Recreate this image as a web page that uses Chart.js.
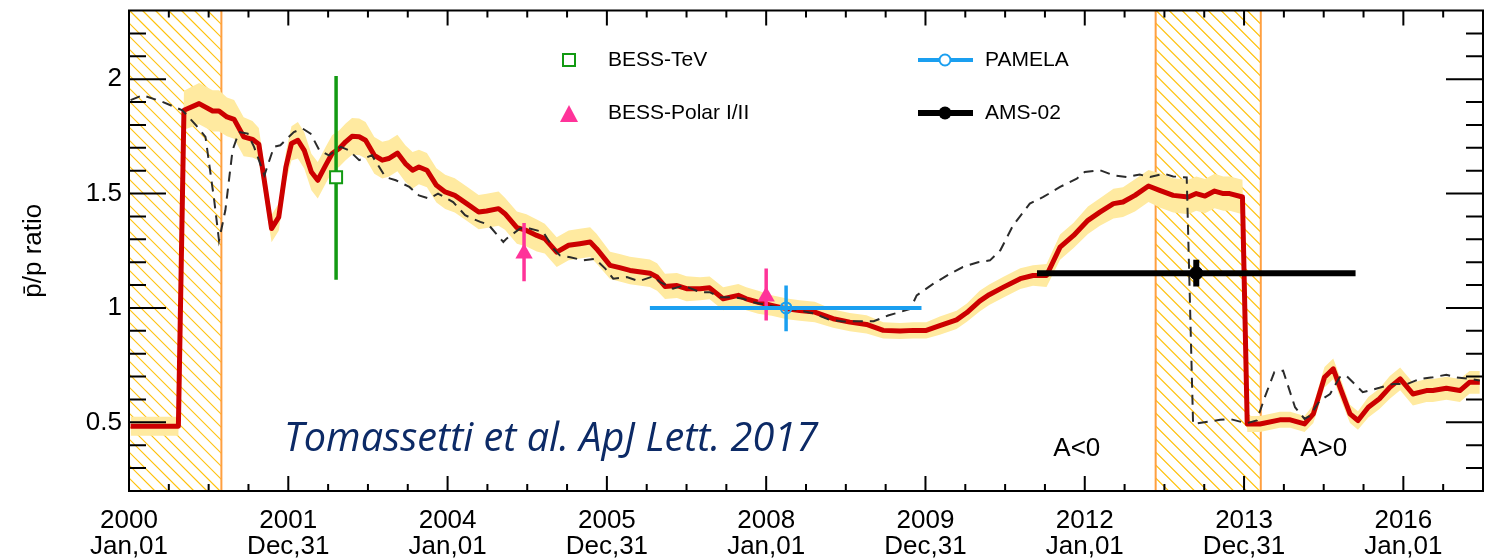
<!DOCTYPE html>
<html>
<head>
<meta charset="utf-8">
<script src="https://cdn.jsdelivr.net/npm/chart.js@4.4.1/dist/chart.umd.min.js"></script>
<style>
  html, body { margin: 0; padding: 0; background: #fff; }
  #chart { display: block; }
</style>
</head>
<body>
<canvas id="chart" width="1494" height="558"></canvas>
<script>
// x axis: decimal year, y axis: antiproton / proton ratio (normalised)
const tickPositions = [2000, 2002, 2004, 2006, 2008, 2010, 2012, 2014, 2016];
const tickYears = ['2000', '2001', '2004', '2005', '2008', '2009', '2012', '2013', '2016'];
const tickDates = ['Jan,01', 'Dec,31', 'Jan,01', 'Dec,31', 'Jan,01', 'Dec,31', 'Jan,01', 'Dec,31', 'Jan,01'];
const yTickValues = [0.5, 1, 1.5, 2];
const yTickLabels = ['0.5', '1', '1.5', '2'];

// reversal periods (hatched)
const hatchStart = [2000.0, 2012.89];
const hatchEnd = [2001.16, 2014.21];

// model prediction (red) and its uncertainty half-width (yellow band)
const modelYears = [
  2000.02, 2000.62, 2000.69, 2000.88, 2001.05, 2001.13, 2001.23, 2001.32, 2001.44, 2001.55,
  2001.63, 2001.79, 2001.88, 2001.97, 2002.04, 2002.12, 2002.20, 2002.29, 2002.37, 2002.47,
  2002.55, 2002.64, 2002.72, 2002.80, 2002.89, 2002.97, 2003.08, 2003.18, 2003.26, 2003.37,
  2003.47, 2003.56, 2003.64, 2003.74, 2003.86, 2003.97, 2004.09, 2004.24, 2004.39, 2004.49,
  2004.64, 2004.72, 2004.87, 2004.99, 2005.12, 2005.22, 2005.37, 2005.52, 2005.66, 2005.79,
  2005.87, 2006.04, 2006.16, 2006.29, 2006.54, 2006.63, 2006.73, 2006.88, 2007.00, 2007.17,
  2007.29, 2007.46, 2007.65, 2007.75, 2007.90, 2008.07, 2008.26, 2008.42, 2008.61, 2008.84,
  2009.05, 2009.26, 2009.47, 2009.68, 2009.85, 2010.01, 2010.18, 2010.39, 2010.52, 2010.68,
  2010.80, 2010.98, 2011.19, 2011.35, 2011.52, 2011.69, 2011.86, 2012.04, 2012.19, 2012.36,
  2012.48, 2012.63, 2012.80, 2012.94, 2013.11, 2013.30, 2013.40, 2013.51, 2013.63, 2013.74,
  2013.82, 2013.98, 2014.04, 2014.20, 2014.45, 2014.58, 2014.76, 2014.87, 2015.01, 2015.12,
  2015.22, 2015.33, 2015.43, 2015.56, 2015.70, 2015.83, 2015.96, 2016.12, 2016.29, 2016.37,
  2016.54, 2016.71, 2016.83, 2016.96
];
const modelRatio = [
  0.483, 0.483, 1.864, 1.893, 1.861, 1.861, 1.835, 1.824, 1.748, 1.737,
  1.716, 1.347, 1.397, 1.616, 1.719, 1.733, 1.689, 1.594, 1.558, 1.624,
  1.675, 1.697, 1.726, 1.750, 1.748, 1.733, 1.667, 1.646, 1.653, 1.677,
  1.631, 1.602, 1.616, 1.602, 1.536, 1.507, 1.492, 1.456, 1.419, 1.424,
  1.434, 1.412, 1.351, 1.339, 1.317, 1.303, 1.244, 1.274, 1.281, 1.288,
  1.259, 1.186, 1.176, 1.164, 1.152, 1.135, 1.094, 1.098, 1.084, 1.084,
  1.088, 1.040, 1.055, 1.040, 1.025, 1.011, 0.996, 0.989, 0.982, 0.953,
  0.938, 0.928, 0.902, 0.899, 0.902, 0.902, 0.923, 0.948, 0.980, 1.030,
  1.058, 1.091, 1.128, 1.142, 1.142, 1.266, 1.317, 1.383, 1.419, 1.456,
  1.463, 1.492, 1.533, 1.514, 1.492, 1.485, 1.500, 1.489, 1.511, 1.500,
  1.500, 1.485, 0.493, 0.493, 0.511, 0.511, 0.493, 0.537, 0.697, 0.734,
  0.639, 0.537, 0.508, 0.566, 0.603, 0.653, 0.690, 0.624, 0.639, 0.639,
  0.649, 0.639, 0.675, 0.675
];
const modelBand = [
  0.042, 0.042, 0.085, 0.090, 0.090, 0.090, 0.085, 0.085, 0.085, 0.080,
  0.070, 0.060, 0.060, 0.065, 0.075, 0.080, 0.080, 0.080, 0.080, 0.080,
  0.080, 0.080, 0.080, 0.080, 0.080, 0.080, 0.080, 0.080, 0.080, 0.080,
  0.080, 0.080, 0.075, 0.075, 0.075, 0.075, 0.075, 0.075, 0.075, 0.075,
  0.075, 0.070, 0.070, 0.070, 0.070, 0.065, 0.065, 0.065, 0.065, 0.065,
  0.065, 0.060, 0.060, 0.060, 0.060, 0.060, 0.055, 0.055, 0.055, 0.050,
  0.050, 0.050, 0.050, 0.050, 0.050, 0.045, 0.045, 0.045, 0.045, 0.040,
  0.040, 0.040, 0.035, 0.035, 0.035, 0.035, 0.040, 0.040, 0.040, 0.045,
  0.045, 0.045, 0.045, 0.045, 0.050, 0.055, 0.055, 0.060, 0.060, 0.065,
  0.065, 0.070, 0.070, 0.075, 0.075, 0.075, 0.075, 0.075, 0.075, 0.075,
  0.075, 0.075, 0.035, 0.035, 0.035, 0.035, 0.035, 0.040, 0.045, 0.045,
  0.045, 0.040, 0.040, 0.045, 0.045, 0.050, 0.050, 0.050, 0.050, 0.050,
  0.050, 0.050, 0.050, 0.050
];

// dashed curve
const dataYears = [
  2000.02, 2000.17, 2000.42, 2000.67, 2000.84, 2000.96, 2001.07, 2001.13, 2001.21, 2001.30,
  2001.38, 2001.49, 2001.57, 2001.70, 2001.82, 2001.90, 2002.07, 2002.18, 2002.28, 2002.39,
  2002.51, 2002.66, 2002.76, 2002.89, 2003.05, 2003.22, 2003.35, 2003.52, 2003.64, 2003.77,
  2003.88, 2004.07, 2004.22, 2004.41, 2004.51, 2004.70, 2004.74, 2004.91, 2005.03, 2005.20,
  2005.33, 2005.41, 2005.54, 2005.70, 2005.85, 2005.98, 2006.08, 2006.25, 2006.40, 2006.58,
  2006.67, 2006.83, 2006.96, 2007.17, 2007.29, 2007.42, 2007.59, 2007.71, 2007.84, 2008.13,
  2008.42, 2008.61, 2008.78, 2008.97, 2009.18, 2009.35, 2009.53, 2009.68, 2009.81, 2009.89,
  2010.10, 2010.31, 2010.47, 2010.66, 2010.81, 2010.94, 2011.10, 2011.31, 2011.48, 2011.69,
  2011.90, 2012.00, 2012.19, 2012.36, 2012.53, 2012.69, 2012.82, 2012.99, 2013.11, 2013.28,
  2013.36, 2013.70, 2013.82, 2014.03, 2014.16, 2014.26, 2014.38, 2014.49, 2014.64, 2014.76,
  2014.83, 2014.95, 2015.08, 2015.20, 2015.28, 2015.49, 2015.70, 2015.87, 2016.05, 2016.21,
  2016.37, 2016.54, 2016.66, 2016.83, 2016.96
];
const dataRatio = [
  1.908, 1.930, 1.901, 1.864, 1.799, 1.748, 1.470, 1.295, 1.427, 1.689,
  1.769, 1.762, 1.704, 1.580, 1.704, 1.711, 1.769, 1.784, 1.762, 1.689,
  1.667, 1.704, 1.689, 1.646, 1.667, 1.572, 1.558, 1.529, 1.492, 1.478,
  1.500, 1.463, 1.405, 1.376, 1.365, 1.288, 1.303, 1.347, 1.347, 1.332,
  1.259, 1.230, 1.222, 1.208, 1.215, 1.172, 1.128, 1.135, 1.117, 1.138,
  1.113, 1.084, 1.098, 1.069, 1.069, 1.047, 1.047, 1.040, 1.025, 1.004,
  0.989, 0.975, 0.950, 0.941, 0.942, 0.942, 0.967, 0.982, 0.996, 1.055,
  1.106, 1.150, 1.179, 1.200, 1.208, 1.252, 1.361, 1.456, 1.485, 1.529,
  1.565, 1.594, 1.602, 1.580, 1.572, 1.583, 1.572, 1.587, 1.575, 1.570,
  0.493, 0.511, 0.515, 0.496, 0.508, 0.610, 0.719, 0.726, 0.566, 0.515,
  0.530, 0.595, 0.624, 0.697, 0.705, 0.632, 0.651, 0.668, 0.668, 0.690,
  0.697, 0.708, 0.697, 0.690, 0.683
];

// experiments
const bessTevYear = [2002.60];
const bessTevRatio = [1.571];
const bessTevLow = [1.123];
const bessTevHigh = [2.014];

const bessPolarYear = [2004.96, 2008.00];
const bessPolarRatio = [1.238, 1.050];
const bessPolarLow = [1.117, 0.945];
const bessPolarHigh = [1.371, 1.172];

const pamelaYear = [2008.25];
const pamelaRatio = [1.000];
const pamelaLow = [0.898];
const pamelaHigh = [1.098];
const pamelaStart = [2006.54];
const pamelaEnd = [2009.95];

const amsYear = [2013.40];
const amsRatio = [1.152];
const amsLow = [1.094];
const amsHigh = [1.211];
const amsStart = [2011.40];
const amsEnd = [2015.40];

const RED = '#cc0000';
const GREEN = '#129a12';
const PINK = '#ff3399';
const BLUE = '#1a9ff0';

Chart.defaults.font.family = '"Liberation Sans", Arial, sans-serif';
Chart.defaults.color = '#000';

function pts(xs, ys) {
  return xs.map((t, i) => ({ x: t, y: ys[i] }));
}
function vbars(xs, lo, hi, color, width) {
  return xs.map((t, i) => ({
    data: [{ x: t, y: lo[i] }, { x: t, y: hi[i] }],
    borderColor: color, borderWidth: width, pointRadius: 0, order: 1
  }));
}
function hbars(x0, x1, ys, color, width) {
  return ys.map((v, i) => ({
    data: [{ x: x0[i], y: v }, { x: x1[i], y: v }],
    borderColor: color, borderWidth: width, pointRadius: 0, order: 1
  }));
}

const hatchPlugin = {
  id: 'hatch',
  beforeDatasetsDraw(chart) {
    const { ctx, chartArea: a, scales: { x } } = chart;
    const h = a.bottom - a.top;
    hatchStart.forEach((s, i) => {
      const p0 = x.getPixelForValue(s), p1 = x.getPixelForValue(hatchEnd[i]);
      ctx.save();
      ctx.beginPath();
      ctx.rect(p0, a.top, p1 - p0, h);
      ctx.clip();
      ctx.strokeStyle = '#ffc20e';
      ctx.lineWidth = 1.2;
      ctx.beginPath();
      for (let q = p0 - h; q < p1; q += 13) {
        ctx.moveTo(q, a.top);
        ctx.lineTo(q + h, a.bottom);
      }
      ctx.stroke();
      ctx.restore();
      ctx.save();
      ctx.strokeStyle = '#ffa040';
      ctx.lineWidth = 2;
      ctx.beginPath();
      ctx.moveTo(p0, a.top); ctx.lineTo(p0, a.bottom);
      ctx.moveTo(p1, a.top); ctx.lineTo(p1, a.bottom);
      ctx.stroke();
      ctx.restore();
    });
  }
};

const framePlugin = {
  id: 'frame',
  afterDraw(chart) {
    const { ctx, chartArea: a, scales: { x, y } } = chart;
    ctx.save();
    ctx.strokeStyle = '#000';
    ctx.lineWidth = 2;
    ctx.strokeRect(a.left, a.top, a.right - a.left, a.bottom - a.top);
    ctx.beginPath();
    for (let k = 0; k <= 34; k++) {
      const px = x.getPixelForValue(2000 + k * 0.5);
      const len = k % 4 === 0 ? 15 : 7;
      ctx.moveTo(px, a.bottom); ctx.lineTo(px, a.bottom - len);
      ctx.moveTo(px, a.top); ctx.lineTo(px, a.top + len);
    }
    for (let k = 2; k <= 22; k++) {
      const py = y.getPixelForValue(k / 10);
      const len = k % 5 === 0 ? 37 : 17;
      ctx.moveTo(a.left, py); ctx.lineTo(a.left + len, py);
      ctx.moveTo(a.right, py); ctx.lineTo(a.right - len, py);
    }
    ctx.stroke();

    // legend
    ctx.font = '21px "Liberation Sans", Arial, sans-serif';
    ctx.fillStyle = '#000';
    ctx.textBaseline = 'middle';
    ctx.textAlign = 'left';
    ctx.fillText('BESS-TeV', 608, 60);
    ctx.fillText('BESS-Polar I/II', 608, 113);
    ctx.fillText('PAMELA', 985, 60);
    ctx.fillText('AMS-02', 985, 113);

    ctx.fillStyle = '#fff';
    ctx.strokeStyle = GREEN;
    ctx.lineWidth = 2;
    ctx.fillRect(563, 54, 12, 12);
    ctx.strokeRect(563, 54, 12, 12);

    ctx.fillStyle = PINK;
    ctx.beginPath();
    ctx.moveTo(569, 105); ctx.lineTo(578, 122); ctx.lineTo(560, 122);
    ctx.closePath();
    ctx.fill();

    ctx.strokeStyle = BLUE;
    ctx.lineWidth = 4;
    ctx.beginPath(); ctx.moveTo(918, 60); ctx.lineTo(973, 60); ctx.stroke();
    ctx.fillStyle = '#fff';
    ctx.lineWidth = 2;
    ctx.beginPath(); ctx.arc(945, 60, 5.5, 0, Math.PI * 2); ctx.fill(); ctx.stroke();

    ctx.strokeStyle = '#000';
    ctx.lineWidth = 6;
    ctx.beginPath(); ctx.moveTo(918, 113); ctx.lineTo(973, 113); ctx.stroke();
    ctx.fillStyle = '#000';
    ctx.beginPath(); ctx.arc(945, 113, 6.5, 0, Math.PI * 2); ctx.fill();

    // annotations
    ctx.textBaseline = 'alphabetic';
    ctx.font = '26px "Liberation Sans", Arial, sans-serif';
    ctx.textAlign = 'center';
    ctx.fillText('A<0', x.getPixelForValue(2011.9), 456);
    ctx.fillText('A>0', x.getPixelForValue(2015.0), 456);

    ctx.textAlign = 'left';
    ctx.fillStyle = '#0c2a66';
    ctx.font = 'italic 40px "Open Sans", "Noto Sans", sans-serif';
    ctx.fillText('Tomassetti et al. ApJ Lett. 2017', 284, 451, 534);
    ctx.restore();
  }
};

const datasets = [
  // markers
  { data: pts(amsYear, amsRatio), showLine: false, pointRadius: 6.5, pointBackgroundColor: '#000', pointBorderColor: '#000', order: 0 },
  { data: pts(pamelaYear, pamelaRatio), showLine: false, pointRadius: 5.5, pointBorderWidth: 2, pointBackgroundColor: 'rgba(0,0,0,0)', pointBorderColor: BLUE, order: 0 },
  { data: pts(bessPolarYear, bessPolarRatio), showLine: false, pointStyle: 'triangle', pointRadius: 10, pointBackgroundColor: PINK, pointBorderColor: PINK, pointBorderWidth: 0, order: 0 },
  { data: pts(bessTevYear, bessTevRatio), showLine: false, pointStyle: 'rect', pointRadius: 8.5, pointBorderWidth: 2, pointBackgroundColor: '#fff', pointBorderColor: GREEN, order: 0 },
  // error bars
  ...hbars(amsStart, amsEnd, amsRatio, '#000', 6),
  ...vbars(amsYear, amsLow, amsHigh, '#000', 6),
  ...hbars(pamelaStart, pamelaEnd, pamelaRatio, BLUE, 4),
  ...vbars(pamelaYear, pamelaLow, pamelaHigh, BLUE, 3.5),
  ...vbars(bessPolarYear, bessPolarLow, bessPolarHigh, PINK, 3.5),
  ...vbars(bessTevYear, bessTevLow, bessTevHigh, GREEN, 3.5),
  // curves
  { data: pts(dataYears, dataRatio), borderColor: '#2b2b2b', borderWidth: 2, borderDash: [10, 7], pointRadius: 0, order: 2 },
  { data: pts(modelYears, modelRatio), borderColor: RED, borderWidth: 5, borderJoinStyle: 'round', pointRadius: 0, order: 3 },
  { data: pts(modelYears, modelRatio.map((v, i) => v + modelBand[i])), borderWidth: 0, pointRadius: 0, fill: '+1', backgroundColor: '#ffeaa0', order: 4 },
  { data: pts(modelYears, modelRatio.map((v, i) => v - modelBand[i])), borderWidth: 0, pointRadius: 0, order: 4 }
];

new Chart(document.getElementById('chart'), {
  type: 'line',
  data: { datasets: datasets },
  options: {
    responsive: false,
    animation: false,
    devicePixelRatio: 1,
    events: [],
    layout: { padding: { top: 10, right: 11, left: 0, bottom: 0 } },
    elements: { line: { tension: 0 } },
    plugins: { legend: { display: false }, tooltip: { enabled: false } },
    scales: {
      x: {
        type: 'linear',
        min: 2000,
        max: 2017,
        afterBuildTicks: s => { s.ticks = tickPositions.map(v => ({ value: v })); },
        afterFit: s => { s.height = 67; s.paddingLeft = 0; s.paddingRight = 0; },
        ticks: {
          autoSkip: false,
          maxRotation: 0,
          padding: 17,
          font: { size: 26, lineHeight: 1.0 },
          callback: v => {
            const i = tickPositions.indexOf(v);
            return [tickYears[i], tickDates[i]];
          }
        },
        grid: { display: false, drawTicks: false },
        border: { display: false }
      },
      y: {
        min: 0.2,
        max: 2.3,
        afterBuildTicks: s => { s.ticks = yTickValues.map(v => ({ value: v })); },
        afterFit: s => { s.width = 129; s.paddingTop = 0; s.paddingBottom = 0; },
        ticks: {
          padding: 7,
          font: { size: 26 },
          callback: v => yTickLabels[yTickValues.indexOf(v)]
        },
        grid: { display: false, drawTicks: false },
        border: { display: false },
        title: {
          display: true,
          text: 'p\u0304/p ratio',
          font: { size: 26 },
          padding: { top: 18, bottom: 0 }
        }
      }
    }
  },
  plugins: [hatchPlugin, framePlugin]
});
</script>
</body>
</html>
